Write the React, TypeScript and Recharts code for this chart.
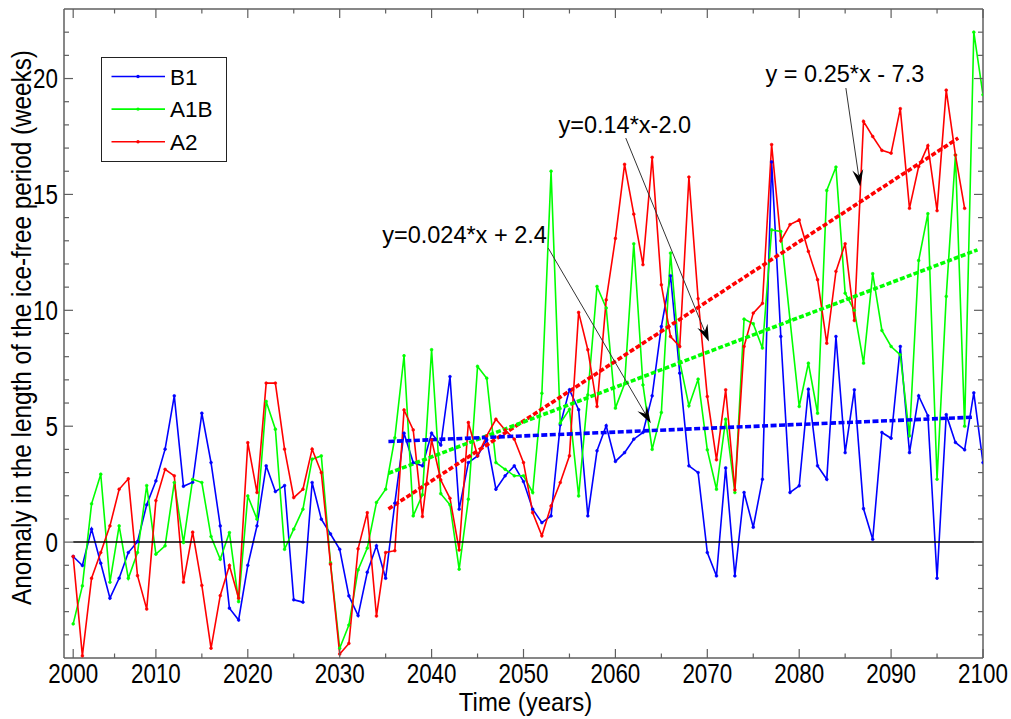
import { LineChart, Line, XAxis, YAxis, ReferenceLine, Legend } from "recharts"

// years of the simulation (one value per year)
const years = [
  2001, 2002, 2003, 2004, 2005, 2006, 2007, 2008, 2009, 2010,
  2011, 2012, 2013, 2014, 2015, 2016, 2017, 2018, 2019, 2020,
  2021, 2022, 2023, 2024, 2025, 2026, 2027, 2028, 2029, 2030,
  2031, 2032, 2033, 2034, 2035, 2036, 2037, 2038, 2039, 2040,
  2041, 2042, 2043, 2044, 2045, 2046, 2047, 2048, 2049, 2050,
  2051, 2052, 2053, 2054, 2055, 2056, 2057, 2058, 2059, 2060,
  2061, 2062, 2063, 2064, 2065, 2066, 2067, 2068, 2069, 2070,
  2071, 2072, 2073, 2074, 2075, 2076, 2077, 2078, 2079, 2080,
  2081, 2082, 2083, 2084, 2085, 2086, 2087, 2088, 2089, 2090,
  2091, 2092, 2093, 2094, 2095, 2096, 2097, 2098, 2099, 2100,
]

const b1 = [
  -0.62, -1.01, 0.56, -0.91, -2.42, -1.56, -0.45, 0.02, 1.61, 2.64,
  4.01, 6.31, 2.41, 2.58, 5.56, 3.43, 0.7, -2.85, -3.36, -1.0,
  0.7, 3.29, 2.18, 2.44, -2.49, -2.59, 2.57, 0.99, 0.35, -0.31,
  -2.32, -3.17, -1.3, -0.16, -1.56, 1.68, 4.7, 3.43, 3.29, 4.7,
  4.19, 7.14, 1.42, 3.43, 3.72, 4.41, 2.28, 2.86, 3.29, 2.61,
  1.42, 0.84, 1.13, 5.06, 6.57, 5.71, 1.13, 3.94, 5.02, 3.48,
  3.86, 4.44, 4.73, 6.31, 9.3, 11.49, 7.29, 3.29, 3.0, -0.45,
  -1.46, 3.2, -1.46, 2.14, 0.64, 2.71, 16.4, 8.87, 2.14, 2.43,
  6.6, 3.29, 2.71, 8.87, 3.86, 6.57, 1.44, 0.12, 4.73, 4.48,
  8.44, 3.86, 6.31, 5.45, -1.56, 5.5, 4.3, 3.98, 6.44, 3.43,
]

const a1b = [
  -3.53, -1.89, 1.65, 2.93, -1.73, 0.7, -1.56, -0.45, 2.44, -0.52,
  -0.16, 2.57, -0.02, 2.71, 2.57, 0.24, -0.74, 0.41, -2.57, 1.99,
  0.99, 6.07, 4.87, -0.31, 0.56, 1.42, 3.58, 3.72, -0.9, -4.58,
  -3.58, -1.2, -0.26, 1.71, 2.28, 4.5, 8.04, 1.13, 2.04, 8.3,
  2.09, 1.61, -1.17, 1.85, 7.58, 7.07, 3.43, 3.14, 2.86, 2.86,
  2.14, 6.42, 16.0, 5.13, 5.73, 1.99, 6.35, 11.03, 10.1, 5.78,
  6.83, 12.87, 6.78, 4.0, 5.59, 12.47, 7.8, 5.88, 7.03, 3.98,
  2.28, 5.3, 2.14, 9.62, 9.42, 8.37, 13.47, 13.4, 9.59, 5.85,
  7.72, 5.56, 15.17, 16.18, 10.74, 10.0, 7.72, 11.58, 9.13, 8.44,
  8.08, 4.58, 12.15, 14.17, 2.71, 10.6, 16.7, 5.0, 22.0, 19.3,
]

// A2 stops in 2098
const a2 = [
  -0.62, -4.91, -1.56, -0.45, 0.7, 2.28, 2.73, -1.45, -2.89, 1.79,
  3.14, 2.86, -1.73, 0.43, -1.87, -4.58, -2.31, -1.01, -2.42, 4.29,
  2.14, 6.86, 6.86, 4.01, 1.92, 2.28, 4.01, 3.0, -0.95, -4.83,
  -4.37, -0.29, 1.27, -3.19, -0.45, -0.37, 5.7, 4.84, 1.1, 4.41,
  2.68, 1.89, -0.34, 5.16, 3.72, 4.58, 5.3, 4.84, 4.44, 3.43,
  1.27, 0.27, 1.56, 2.57, 3.72, 9.91, 8.3, 5.85, 10.45, 13.1,
  16.3, 14.15, 11.97, 16.6, 11.1, 8.87, 8.44, 15.75, 10.5, 6.28,
  3.55, 6.57, 2.25, 8.44, 9.88, 10.3, 17.15, 13.0, 13.7, 13.9,
  12.54, 11.32, 8.58, 11.68, 12.87, 9.56, 18.15, 17.5, 16.9, 16.78,
  18.7, 14.4, 16.2, 17.1, 14.3, 19.5, 16.7, 14.4,
]

// fitted trends (start and end of each dashed line)
const b1TrendX = [2035.3, 2099.0]
const b1TrendY = [4.34, 5.39]
const a1bTrendX = [2035.3, 2099.4]
const a1bTrendY = [2.97, 12.61]
const a2TrendX = [2035.3, 2097.3]
const a2TrendY = [1.43, 17.43]

const seriesNames = ["B1", "A1B", "A2"]
const xMajorTicks = [2001, 2010, 2020, 2030, 2040, 2050, 2060, 2070, 2080, 2090, 2100]
const xMinorTicks = [2005.5, 2015, 2025, 2035, 2045, 2055, 2065, 2075, 2085, 2095]
const yMajorTicks = [0, 5, 10, 15, 20]
const yMinorTicks = [-4, -3, -2, -1, 1, 2, 3, 4, 6, 7, 8, 9, 11, 12, 13, 14, 16, 17, 18, 19, 21, 22]

const notes = [
  { text: "y=0.024*x + 2.4", from: [2052.7, 12.68], to: [2063.85, 5.13], anchor: "end", lift: 5 },
  { text: "y=0.14*x-2.0", from: [2061.13, 17.43], to: [2070.17, 8.65], anchor: "middle", lift: 5 },
  { text: "y = 0.25*x - 7.3", from: [2085.08, 19.59], to: [2086.64, 15.34], anchor: "middle", lift: 6.5 },
]

const BLUE = "#0000ff"
const GREEN = "#00ff00"
const RED = "#ff0000"
const COLORS = [BLUE, GREEN, RED]
const AXIS = "#5f5f5f"
const FONT = '"Liberation Sans", Arial, Helvetica, sans-serif'

const toPoints = (xs: number[], ys: number[]) => ys.map((v, i) => ({ year: xs[i], v }))

const b1Data = toPoints(years, b1)
const a1bData = toPoints(years, a1b)
const a2Data = toPoints(years, a2)
const b1Trend = toPoints(b1TrendX, b1TrendY)
const a1bTrend = toPoints(a1bTrendX, a1bTrendY)
const a2Trend = toPoints(a2TrendX, a2TrendY)

const xTicks = [...xMajorTicks, ...xMinorTicks].sort((a, b) => a - b)
const yTicks = [...yMajorTicks, ...yMinorTicks].sort((a, b) => a - b)

function BottomTick(props: any) {
  const { x, y, payload } = props
  const major = xMajorTicks.includes(payload.value)
  return (
    <g>
      <line x1={x} x2={x} y1={y} y2={y - (major ? 9 : 4.5)} stroke={AXIS} strokeWidth={1.2} />
      {major && (
        <text
          transform={`translate(${x},${y + 25}) scale(0.83,1)`}
          textAnchor="middle"
          fontSize={27}
          fontFamily={FONT}
          fill="#000"
        >
          {Math.floor(payload.value / 10) * 10}
        </text>
      )}
    </g>
  )
}

function TopTick(props: any) {
  const { x, y, payload } = props
  const major = xMajorTicks.includes(payload.value)
  return <line x1={x} x2={x} y1={y} y2={y + (major ? 9 : 4.5)} stroke={AXIS} strokeWidth={1.2} />
}

function LeftTick(props: any) {
  const { x, y, payload } = props
  const major = yMajorTicks.includes(payload.value)
  return (
    <g>
      <line x1={x} x2={x + (major ? 9 : 5)} y1={y} y2={y} stroke={AXIS} strokeWidth={1.2} />
      {major && (
        <text
          transform={`translate(${x - 6},${y}) scale(0.83,1)`}
          textAnchor="end"
          dy="0.36em"
          fontSize={27}
          fontFamily={FONT}
          fill="#000"
        >
          {payload.value}
        </text>
      )}
    </g>
  )
}

function RightTick(props: any) {
  const { x, y, payload } = props
  const major = yMajorTicks.includes(payload.value)
  return <line x1={x} x2={x - (major ? 9 : 5)} y1={y} y2={y} stroke={AXIS} strokeWidth={1.2} />
}

function XTitle(props: any) {
  const vb = props.viewBox || { x: 64, y: 658, width: 919, height: 61 }
  return (
    <text
      transform={`translate(${vb.x + vb.width / 2 + 2},${vb.y + 53}) scale(0.92,1)`}
      textAnchor="middle"
      fontSize={26}
      fontFamily={FONT}
      fill="#000"
    >
      Time (years)
    </text>
  )
}

function YTitle(props: any) {
  const vb = props.viewBox || { x: 0, y: 9, width: 64, height: 649 }
  const cx = vb.x + 21
  const cy = vb.y + vb.height / 2 - 6
  return (
    <text
      transform={`translate(${cx},${cy}) rotate(-90) scale(0.9,1)`}
      textAnchor="middle"
      dy="0.36em"
      fontSize={27}
      fontFamily={FONT}
      fill="#000"
    >
      Anomaly in the length of the ice-free period (weeks)
    </text>
  )
}

function arrowShape(note: (typeof notes)[number]) {
  return (p: any) => {
    const { x1, y1, x2, y2 } = p
    const ang = Math.atan2(y2 - y1, x2 - x1)
    const ux = Math.cos(ang)
    const uy = Math.sin(ang)
    const L = 17
    const W = 5.5
    const N = 11
    const bx = x2 - ux * L
    const by = y2 - uy * L
    const pts = [
      [x2, y2],
      [bx - uy * W, by + ux * W],
      [x2 - ux * N, y2 - uy * N],
      [bx + uy * W, by - ux * W],
    ]
    const tx = note.anchor === "end" ? x1 - 1.5 : x1 - 1
    return (
      <g>
        <line x1={x1} y1={y1} x2={x2 - ux * N} y2={y2 - uy * N} stroke="#333" strokeWidth={1} />
        <polygon points={pts.map((q) => q.join(",")).join(" ")} fill="#000" />
        <text
          x={tx}
          y={y1 - note.lift}
          textAnchor={note.anchor as any}
          fontSize={23.5}
          fontFamily={FONT}
          fill="#000"
        >
          {note.text}
        </text>
      </g>
    )
  }
}

function LegendBox() {
  return (
    <svg width={127} height={106} style={{ display: "block" }}>
      <rect x={0.5} y={0.5} width={125} height={104} fill="#fff" stroke="#222" strokeWidth={1} />
      {seriesNames.map((name, i) => {
        const cy = 19.5 + i * 32.6
        return (
          <g key={name}>
            <line x1={10.5} x2={64} y1={cy} y2={cy} stroke={COLORS[i]} strokeWidth={1.6} />
            <circle cx={37} cy={cy} r={1.7} fill={COLORS[i]} />
            <text x={69} y={cy + 8} fontSize={22.5} fontFamily={FONT} fill="#000">
              {name}
            </text>
          </g>
        )
      })}
    </svg>
  )
}

export default function App() {
  return (
    <div style={{ position: "absolute", left: 0, top: 0, background: "#fff" }}>
      <LineChart width={1011} height={719} margin={{ top: 9, right: 28, bottom: 0, left: 0 }}>
        <XAxis
          type="number"
          dataKey="year"
          domain={[2000, 2100]}
          allowDataOverflow
          ticks={xTicks}
          interval={0}
          tick={<BottomTick />}
          tickLine={false}
          tickSize={0}
          tickMargin={0}
          height={61}
          axisLine={{ stroke: AXIS, strokeWidth: 1.5 }}
          label={(p: any) => <XTitle {...p} />}
        />
        <XAxis
          xAxisId="top"
          orientation="top"
          mirror
          type="number"
          dataKey="year"
          domain={[2000, 2100]}
          allowDataOverflow
          ticks={xTicks}
          interval={0}
          tick={<TopTick />}
          tickLine={false}
          tickSize={0}
          tickMargin={0}
          height={20}
          axisLine={{ stroke: AXIS, strokeWidth: 1.5 }}
        />
        <YAxis
          type="number"
          domain={[-5, 23]}
          allowDataOverflow
          ticks={yTicks}
          interval={0}
          tick={<LeftTick />}
          tickLine={false}
          tickSize={0}
          tickMargin={0}
          width={64}
          axisLine={{ stroke: AXIS, strokeWidth: 1.5 }}
          label={(p: any) => <YTitle {...p} />}
        />
        <YAxis
          yAxisId="right"
          orientation="right"
          mirror
          type="number"
          domain={[-5, 23]}
          allowDataOverflow
          ticks={yTicks}
          interval={0}
          tick={<RightTick />}
          tickLine={false}
          tickSize={0}
          tickMargin={0}
          width={20}
          axisLine={{ stroke: AXIS, strokeWidth: 1.5 }}
        />

        <Legend
          layout="horizontal"
          verticalAlign="middle"
          align="center"
          wrapperStyle={{ left: 101, top: 57, width: 127, height: 106 }}
          content={() => <LegendBox />}
        />

        <Line data={b1Data} dataKey="v" name="B1" stroke={BLUE} strokeWidth={1.6}
          dot={{ r: 1.4, fill: BLUE, stroke: BLUE, strokeWidth: 0.6 }} isAnimationActive={false} />
        <Line data={a1bData} dataKey="v" name="A1B" stroke={GREEN} strokeWidth={1.6}
          dot={{ r: 1.4, fill: GREEN, stroke: GREEN, strokeWidth: 0.6 }} isAnimationActive={false} />
        <Line data={a2Data} dataKey="v" name="A2" stroke={RED} strokeWidth={1.6}
          dot={{ r: 1.4, fill: RED, stroke: RED, strokeWidth: 0.6 }} isAnimationActive={false} />

        <Line data={a2Trend} dataKey="v" stroke={RED} strokeWidth={3.6} strokeDasharray="5 2.2"
          dot={false} legendType="none" isAnimationActive={false} />
        <Line data={a1bTrend} dataKey="v" stroke={GREEN} strokeWidth={3.6} strokeDasharray="5 2.2"
          dot={false} legendType="none" isAnimationActive={false} />
        <Line data={b1Trend} dataKey="v" stroke={BLUE} strokeWidth={3.6} strokeDasharray="6 2.5"
          dot={false} legendType="none" isAnimationActive={false} />

        <ReferenceLine segment={[{ x: 2001, y: 0 }, { x: 2100, y: 0 }]} stroke="#000" strokeWidth={1.5} />

        {notes.map((n) => (
          <ReferenceLine
            key={n.text}
            segment={[{ x: n.from[0], y: n.from[1] }, { x: n.to[0], y: n.to[1] }]}
            shape={arrowShape(n)}
          />
        ))}
      </LineChart>
    </div>
  )
}
